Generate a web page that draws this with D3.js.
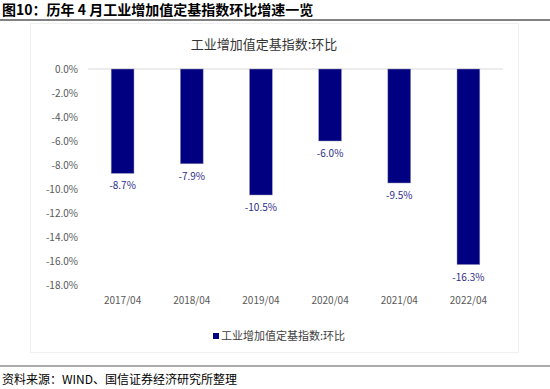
<!DOCTYPE html>
<html>
<head>
<meta charset="utf-8">
<script src="https://cdn.jsdelivr.net/npm/d3@7"></script>
<style>
  body { margin: 0; background: #fff; }
  text { font-family: "Noto Sans CJK SC", "DejaVu Sans", sans-serif; }
</style>
</head>
<body>
<div id="chart"></div>
<script>
// data
let categories = ["2017/04", "2018/04", "2019/04", "2020/04", "2021/04", "2022/04"];
let values = [-8.7, -7.9, -10.5, -6.0, -9.5, -16.3];
let yTicks = [0, -2, -4, -6, -8, -10, -12, -14, -16, -18];
let seriesName = "工业增加值定基指数:环比";

let width = 550, height = 389;
let pct = d => d.toFixed(1) + "%";

let svg = d3.select("#chart").append("svg")
    .attr("width", width)
    .attr("height", height);

// figure title + rules
svg.append("text")
    .attr("x", 2).attr("y", 15)
    .attr("font-size", 14).attr("font-weight", "bold").attr("fill", "#000")
    .text("图10：历年 4 月工业增加值定基指数环比增速一览");
svg.append("line")
    .attr("x1", 0).attr("x2", width).attr("y1", 20).attr("y2", 20)
    .attr("stroke", "#595959").attr("stroke-width", 1.5);

// faint panel
svg.append("rect")
    .attr("x", 30.5).attr("y", 23.5).attr("width", 488).attr("height", 329)
    .attr("fill", "none").attr("stroke", "#f0f0f0");

svg.append("text")
    .attr("x", 264).attr("y", 49)
    .attr("text-anchor", "middle").attr("font-size", 13).attr("fill", "#333")
    .text(seriesName);

let x = d3.scaleBand()
    .domain(categories)
    .range([88, 503])
    .paddingInner(0.67)
    .paddingOuter(0.335);

let y = d3.scaleLinear()
    .domain([0, -18])
    .range([69, 285]);

// y axis labels
let yAxis = svg.append("g")
    .attr("transform", "translate(78,0)")
    .call(d3.axisLeft(y).tickValues(yTicks).tickSize(0).tickPadding(0)
        .tickFormat(pct));
yAxis.select(".domain").remove();
yAxis.selectAll("text")
    .attr("font-size", 10).attr("fill", "#595959");

// zero line
svg.append("line")
    .attr("x1", 88).attr("x2", 503)
    .attr("y1", y(0)).attr("y2", y(0))
    .attr("stroke", "#d9d9d9");

// bars
svg.selectAll("rect.bar")
    .data(values)
    .join("rect")
    .attr("class", "bar")
    .attr("x", (d, i) => x(categories[i]))
    .attr("y", y(0))
    .attr("width", x.bandwidth())
    .attr("height", d => y(d) - y(0))
    .attr("fill", "#000080")
    .attr("stroke", "#9a9ab8")
    .attr("stroke-width", 0.5);

// data labels
svg.selectAll("text.lbl")
    .data(values)
    .join("text")
    .attr("class", "lbl")
    .attr("x", (d, i) => x(categories[i]) + x.bandwidth() / 2)
    .attr("y", d => y(d) + 16)
    .attr("text-anchor", "middle")
    .attr("font-size", 10)
    .attr("fill", "#2e2e8a")
    .text(pct);

// x axis labels
let xAxis = svg.append("g")
    .attr("transform", "translate(0,297)")
    .call(d3.axisBottom(x).tickSize(0).tickPadding(0));
xAxis.select(".domain").remove();
xAxis.selectAll("text")
    .attr("font-size", 10).attr("fill", "#595959")
    .attr("dy", "0.71em");

// legend
svg.append("rect")
    .attr("x", 213).attr("y", 333).attr("width", 6).attr("height", 6)
    .attr("fill", "#000080");
svg.append("text")
    .attr("x", 221).attr("y", 340)
    .attr("font-size", 11).attr("fill", "#404040")
    .text(seriesName);

// source rule + note
svg.append("line")
    .attr("x1", 0).attr("x2", width).attr("y1", 366).attr("y2", 366)
    .attr("stroke", "#595959").attr("stroke-width", 1);
svg.append("text")
    .attr("x", 2).attr("y", 384)
    .attr("font-size", 12).attr("fill", "#000")
    .text("资料来源：WIND、国信证券经济研究所整理");
</script>
</body>
</html>
